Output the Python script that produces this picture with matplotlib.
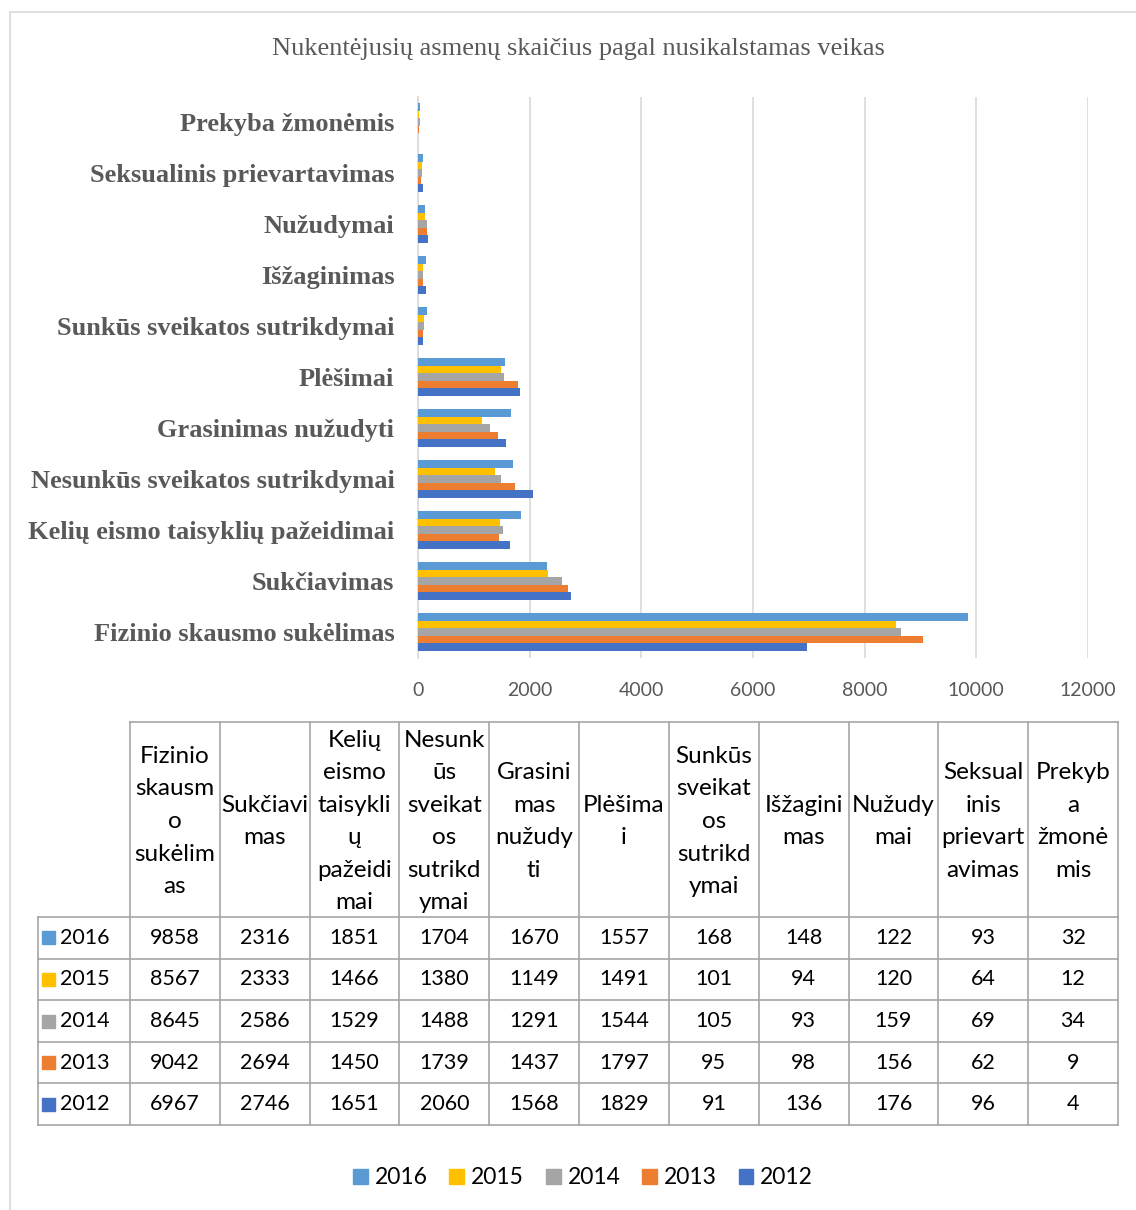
import numpy as np
import matplotlib
matplotlib.use("Agg")
import matplotlib.pyplot as plt
from matplotlib.patches import Rectangle

# data
categories = ["Fizinio skausmo sukėlimas", "Sukčiavimas", "Kelių eismo taisyklių pažeidimai",
              "Nesunkūs sveikatos sutrikdymai", "Grasinimas nužudyti", "Plėšimai",
              "Sunkūs sveikatos sutrikdymai", "Išžaginimas", "Nužudymai",
              "Seksualinis prievartavimas", "Prekyba žmonėmis"]
header_labels = ["Fizinio\nskausm\no\nsukėlim\nas", "Sukčiavi\nmas", "Kelių\neismo\ntaisykli\nų\npažeidi\nmai",
                 "Nesunk\nūs\nsveikat\nos\nsutrikd\nymai", "Grasini\nmas\nnužudy\nti", "Plėšima\ni",
                 "Sunkūs\nsveikat\nos\nsutrikd\nymai", "Išžagini\nmas", "Nužudy\nmai",
                 "Seksual\ninis\nprievart\navimas", "Prekyb\na\nžmonė\nmis"]
years = ["2016", "2015", "2014", "2013", "2012"]
v2016 = [9858, 2316, 1851, 1704, 1670, 1557, 168, 148, 122, 93, 32]
v2015 = [8567, 2333, 1466, 1380, 1149, 1491, 101, 94, 120, 64, 12]
v2014 = [8645, 2586, 1529, 1488, 1291, 1544, 105, 93, 159, 69, 34]
v2013 = [9042, 2694, 1450, 1739, 1437, 1797, 95, 98, 156, 62, 9]
v2012 = [6967, 2746, 1651, 2060, 1568, 1829, 91, 136, 176, 96, 4]
series = [v2016, v2015, v2014, v2013, v2012]
colors = ["#5B9BD5", "#FFC000", "#A5A5A5", "#ED7D31", "#4472C4"]

W, H = 1136, 1210
fig = plt.figure(figsize=(W / 100, H / 100), dpi=100)
serif = ["Liberation Serif", "DejaVu Serif"]
sans = ["Lato", "DejaVu Sans"]


def box(x0, y0, x1, y1):
    return [x0 / W, 1 - y1 / H, (x1 - x0) / W, (y1 - y0) / H]


# chart frame
fig.patches.append(Rectangle((10 / W, -0.01), 1.02, 1 - 12 / H + 0.01, transform=fig.transFigure,
                             fill=False, edgecolor="#D9D9D9", lw=1.2))

fig.text(578 / W, 1 - 49 / H, "Nukentėjusių asmenų skaičius pagal nusikalstamas veikas",
         ha="center", va="center", fontsize=19, color="#595959", family=serif)

# bar chart
ax = fig.add_axes(box(418, 96.5, 1088, 657.5))
y = np.arange(len(categories))
h = 0.15
for i, (vals, c) in enumerate(zip(series, colors)):
    ax.barh(y + (2 - i) * h, vals, height=h, color=c, zorder=3)
ax.set_xlim(0, 12000)
ax.set_ylim(-0.5, len(categories) - 0.5)
ax.set_xticks(np.arange(0, 12001, 2000))
ax.set_yticks(y)
ax.set_yticklabels(categories, family=serif, fontweight="bold", fontsize=19, color="#595959")
ax.tick_params(axis="y", length=0, pad=17)
ax.tick_params(axis="x", length=0, pad=18, labelsize=14, labelcolor="#595959")
for lab in ax.get_xticklabels():
    lab.set_family(sans)
ax.grid(axis="x", color="#D9D9D9", lw=1.2, zorder=0)
for s in ["top", "right", "bottom"]:
    ax.spines[s].set_visible(False)
ax.spines["left"].set_color("#D9D9D9")
ax.spines["left"].set_linewidth(1.2)

# data table
tax = fig.add_axes(box(38, 722, 1118, 1125))
ncol = len(categories)
cw = 89.8
lab_w = 92 / cw
row_h = 41.6
hdr_h = 195
tot_h = hdr_h + row_h * len(years)
tax.set_xlim(-lab_w, ncol)
tax.set_ylim(tot_h, 0)
tax.axis("off")
lc = "#A6A6A6"
lw = 1.2
tax.plot([0, ncol], [0, 0], color=lc, lw=lw, clip_on=False)
for j in range(ncol + 1):
    tax.plot([j, j], [0, tot_h], color=lc, lw=lw, clip_on=False)
tax.plot([-lab_w, -lab_w], [hdr_h, tot_h], color=lc, lw=lw, clip_on=False)
for r in range(len(years) + 1):
    yy = hdr_h + r * row_h
    tax.plot([-lab_w, ncol], [yy, yy], color=lc, lw=lw, clip_on=False)
for j, lab in enumerate(header_labels):
    tax.text(j + 0.5, hdr_h / 2 + 2, lab, ha="center", va="center", fontsize=17.5,
             family=sans, linespacing=1.68, color="black")
for r, (yr, vals, c) in enumerate(zip(years, series, colors)):
    yc = hdr_h + (r + 0.5) * row_h
    tax.add_patch(Rectangle((-lab_w + 4 / cw, yc - 6.5), 13 / cw, 13, color=c, clip_on=False))
    tax.text(-lab_w + 22 / cw, yc, yr, ha="left", va="center", fontsize=15.5, family=sans)
    for j, v in enumerate(vals):
        tax.text(j + 0.5, yc, str(v), ha="center", va="center", fontsize=15.5, family=sans)

# legend
handles = [Rectangle((0, 0), 1, 1, color=c) for c in colors]
fig.legend(handles, years, loc="center", bbox_to_anchor=(583 / W, 1 - 1178 / H), ncol=5,
           frameon=False, prop={"family": sans, "size": 16.5}, handlelength=0.65, handleheight=0.65,
           handletextpad=0.3, columnspacing=0.95)

fig.savefig("out.png", dpi=100)
